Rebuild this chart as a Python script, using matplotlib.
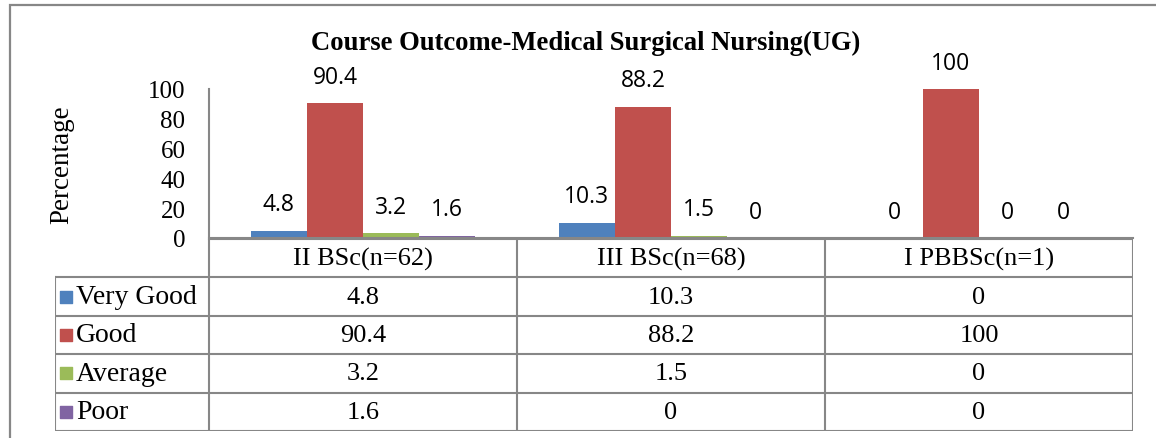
import numpy as np
import matplotlib
matplotlib.use("Agg")
import matplotlib.pyplot as plt
from matplotlib.patches import Rectangle


W, H = 1156, 439

title = "Course Outcome-Medical Surgical Nursing(UG)"
categories = ["II BSc(n=62)", "III BSc(n=68)", "I PBBSc(n=1)"]
series_names = ["Very Good", "Good", "Average", "Poor"]
very_good = [4.8, 10.3, 0]
good = [90.4, 88.2, 100]
average = [3.2, 1.5, 0]
poor = [1.6, 0, 0]
colors = ["#4F81BD", "#C0504D", "#9BBB59", "#8064A2"]

series = [very_good, good, average, poor]
serif = "Liberation Serif"
sans = "Open Sans"
grey = "#878787"

fig = plt.figure(figsize=(W / 100, H / 100), dpi=100)

# chart area
ax = fig.add_axes([209 / W, 1 - 239 / H, 924 / W, 149 / H])
x = np.arange(len(categories))
bw = 0.182
for i, (vals, name, c) in enumerate(zip(series, series_names, colors)):
    pos = x + (i - 1.5) * bw
    ax.bar(pos, vals, width=bw, color=c, label=name)
    for px, v in zip(pos, vals):
        ax.annotate("{:g}".format(v), (px, v), xytext=(0, 19), textcoords="offset points",
                    ha="center", va="center", fontsize=16.5, family=sans)

ax.set_xlim(-0.5, len(categories) - 0.5)
ax.set_ylim(0, 100)
ax.set_yticks(range(0, 101, 20))
ax.set_xticks([])
for s in ["top", "right"]:
    ax.spines[s].set_visible(False)
for s in ["left", "bottom"]:
    ax.spines[s].set_color(grey)
    ax.spines[s].set_linewidth(1.5)
ax.tick_params(axis="y", length=0, pad=17, labelsize=18)
for t in ax.get_yticklabels():
    t.set_family(serif)
ax.patch.set_alpha(0)

# data table under the chart, same x units as the bars
tab = fig.add_axes([55 / W, 1 - 432 / H, (1133 - 55) / W, (432 - 240) / H])
tab.set_xlim(-1.0, len(categories) - 0.5)
tab.set_ylim(len(series) + 1, 0)
tab.axis("off")
right = len(categories) - 0.5
lk = dict(color=grey, lw=1.5, solid_capstyle="projecting")
tab.plot([-0.5, right], [0, 0], **lk)
for r in range(1, len(series) + 2):
    tab.plot([-1.0, right], [r, r], **lk)
tab.plot([-1.0, -1.0], [1, len(series) + 1], **lk)
for cx in np.arange(-0.5, right + 0.01, 1.0):
    tab.plot([cx, cx], [0, len(series) + 1], **lk)

for j, cat in enumerate(categories):
    tab.text(j, 0.5, cat, ha="center", va="center", fontsize=19, family=serif)
for i, (vals, name, c) in enumerate(zip(series, series_names, colors)):
    yc = i + 1.5
    tab.scatter([-0.963], [yc], marker="s", s=70, color=c, clip_on=False)
    tab.text(-0.932, yc, name, ha="left", va="center", fontsize=20, family=serif)
    for j, v in enumerate(vals):
        tab.text(j, yc, "{:g}".format(v), ha="center", va="center", fontsize=19, family=serif)

fig.text(586 / W, 1 - 43 / H, title, ha="center", va="center", fontsize=19.2,
         fontweight="bold", family=serif)
fig.text(62 / W, 1 - 165 / H, "Percentage", ha="center", va="center", rotation=90,
         fontsize=19.5, family=serif)

# outer chart frame (right and bottom edges are off the picture)
fig.patches.append(Rectangle((10 / W, -0.2), 1.2, 1.2 - 6 / H, transform=fig.transFigure,
                             fill=False, edgecolor=grey, lw=1.6, figure=fig))

fig.savefig("out.png", dpi=100)
